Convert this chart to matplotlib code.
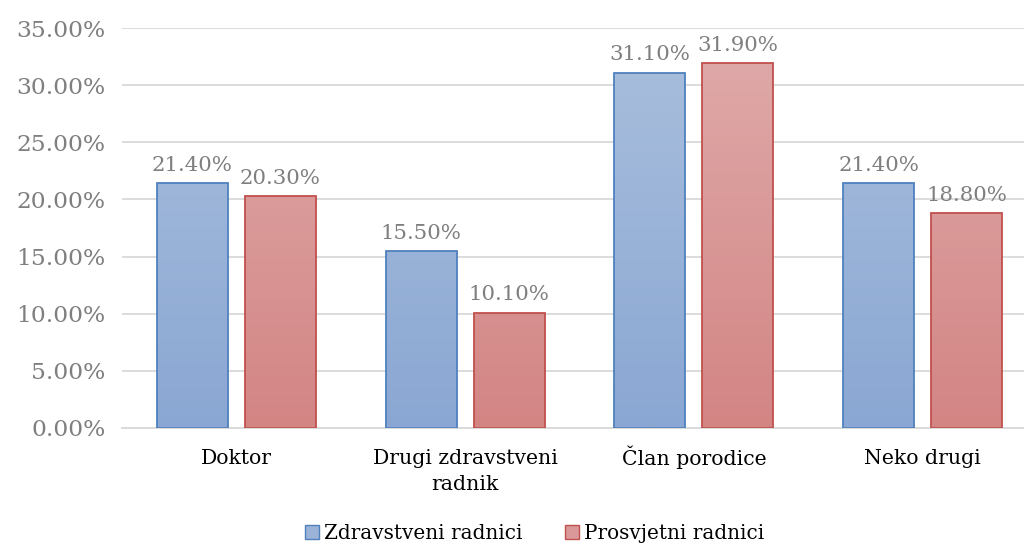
import numpy as np
import matplotlib
matplotlib.use("Agg")
import matplotlib.pyplot as plt
import matplotlib.transforms as mtransforms
from matplotlib.patches import Patch
from matplotlib.colors import LinearSegmentedColormap

categories = ["Doktor", "Drugi zdravstveni\nradnik", "Član porodice", "Neko drugi"]
series_names = ["Zdravstveni radnici", "Prosvjetni radnici"]
zdravstveni = [21.4, 15.5, 31.1, 21.4]
prosvjetni = [20.3, 10.1, 31.9, 18.8]
yticks = [0, 5, 10, 15, 20, 25, 30, 35]

plt.rcParams['font.family'] = ['DejaVu Serif']

fig = plt.figure(figsize=(10.24, 5.47), dpi=100)
ax = fig.add_axes([0.1191, 0.2176, 0.8936, 0.7312])

x = np.arange(len(categories))
w = 0.31
off = 0.1924

styles = [
    dict(top="#aabfdd", bottom="#8aa7d3", edge="#4f81bd", legend="#9bb3d9"),
    dict(top="#e0abab", bottom="#d38584", edge="#c0504d", legend="#da9998"),
]

for vals, sgn, st in [(zdravstveni, -1, styles[0]), (prosvjetni, 1, styles[1])]:
    bars = ax.bar(x + sgn * off, vals, width=w, facecolor="none",
                  edgecolor=st["edge"], linewidth=1.3, zorder=3)
    cmap = LinearSegmentedColormap.from_list("g", [st["bottom"], st["top"]])
    for b, v in zip(bars, vals):
        x0 = b.get_x()
        grad = np.linspace(0, v / 35.0, 256).reshape(-1, 1)
        im = ax.imshow(grad, extent=[x0, x0 + b.get_width(), 0, v], origin="lower",
                       aspect="auto", cmap=cmap, vmin=0, vmax=1, zorder=2)
        im.set_clip_path(b)
        ax.annotate(f"{v:.2f}%", (b.get_x() + b.get_width() / 2, v),
                    xytext=(0, 6), textcoords="offset points", ha="center", va="bottom",
                    fontsize=15.3, color="#7f7f7f")

ax.set_xlim(-0.5, 3.5)
ax.set_ylim(0, 35)
ax.set_yticks(yticks)
ax.set_yticklabels([f"{t:.2f}%" for t in yticks], fontsize=16.8, color="#7f7f7f")
ax.set_xticks(x)
ax.set_xticklabels(categories, fontsize=14.7, color="black", linespacing=1.45)
ax.tick_params(axis="both", length=0)
ax.tick_params(axis="y", pad=12)
ax.tick_params(axis="x", pad=15)
# the caron on "Č" pushes that label down; lift it to share the baseline
for lbl in ax.get_xticklabels():
    if lbl.get_text().startswith("Č"):
        lbl.set_transform(lbl.get_transform() +
                          mtransforms.ScaledTranslation(0, 3 / 100, fig.dpi_scale_trans))
ax.grid(axis="y", color="#d9d9d9", linewidth=1.3, zorder=0)
ax.set_axisbelow(True)
for s in ["top", "right", "left"]:
    ax.spines[s].set_visible(False)
ax.spines["bottom"].set_color("#d9d9d9")
ax.spines["bottom"].set_linewidth(1.3)

handles = [Patch(facecolor=st["legend"], edgecolor=st["edge"], label=n)
           for st, n in zip(styles, series_names)]
fig.legend(handles=handles, loc="center", bbox_to_anchor=(0.522, 0.025), ncol=2,
           frameon=False, fontsize=14.4, handlelength=0.7, handleheight=0.7,
           handletextpad=0.25, columnspacing=2.1, borderpad=0)

fig.savefig("out.png", dpi=100)
